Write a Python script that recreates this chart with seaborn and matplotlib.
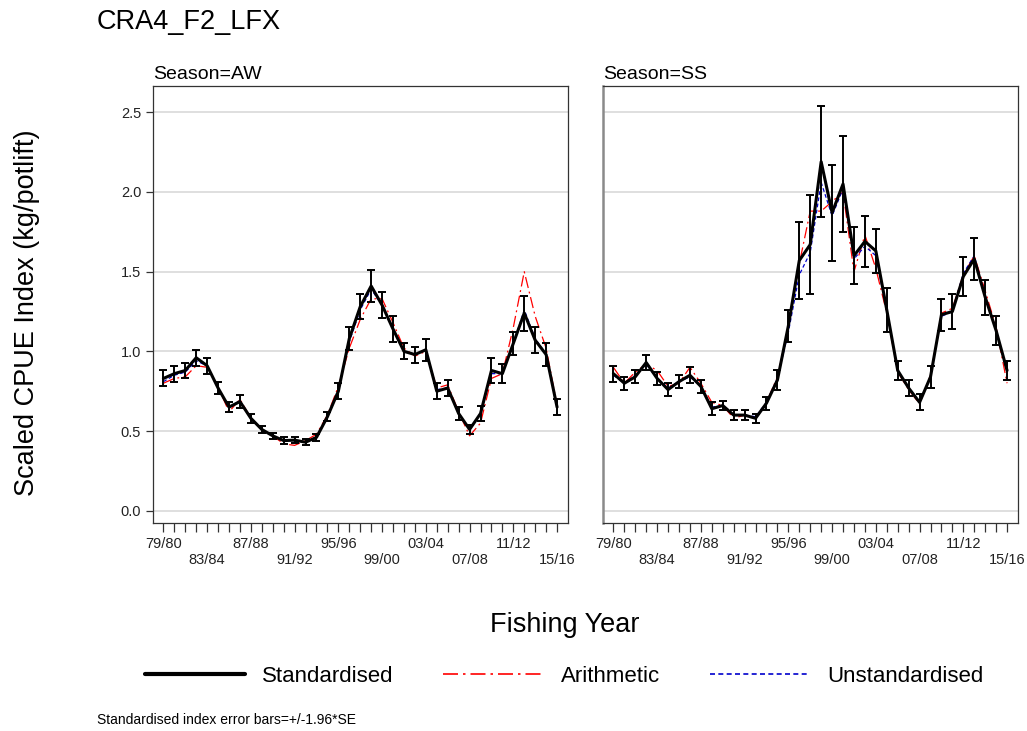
import matplotlib
matplotlib.use("Agg")
import matplotlib.pyplot as plt
import numpy as np
import pandas as pd
import seaborn as sns

# Fishing years 1979/80 .. 2015/16 (position index = year offset)
years = list(range(1979, 2016))
labelled_years = ["79/80", "83/84", "87/88", "91/92", "95/96",
                  "99/00", "03/04", "07/08", "11/12", "15/16"]

# Autumn-winter season
aw_std = [0.83, 0.86, 0.88, 0.96, 0.91, 0.77, 0.65, 0.685, 0.58, 0.51,
          0.47, 0.44, 0.443, 0.43, 0.46, 0.59, 0.75, 1.08, 1.28, 1.41,
          1.29, 1.14, 1.00, 0.98, 1.01, 0.75, 0.77, 0.61, 0.51, 0.61,
          0.88, 0.86, 1.05, 1.24, 1.07, 0.98, 0.65]
aw_ci = [0.05, 0.05, 0.05, 0.05, 0.05, 0.04, 0.03, 0.04, 0.03, 0.02,
         0.02, 0.02, 0.02, 0.02, 0.02, 0.03, 0.05, 0.07, 0.08, 0.10,
         0.08, 0.08, 0.05, 0.05, 0.07, 0.05, 0.05, 0.04, 0.03, 0.05,
         0.08, 0.06, 0.07, 0.11, 0.08, 0.07, 0.05]
aw_arith = [0.80, 0.83, 0.84, 0.91, 0.90, 0.78, 0.62, 0.70, 0.58, 0.51,
            0.47, 0.42, 0.41, 0.44, 0.48, 0.60, 0.78, 1.02, 1.20, 1.33,
            1.33, 1.18, 1.02, 0.97, 1.00, 0.77, 0.79, 0.62, 0.47, 0.55,
            0.83, 0.86, 1.15, 1.50, 1.22, 1.02, 0.66]
aw_unstd = [0.81, 0.85, 0.87, 0.94, 0.91, 0.77, 0.65, 0.69, 0.58, 0.51,
            0.47, 0.44, 0.44, 0.43, 0.46, 0.59, 0.76, 1.06, 1.26, 1.39,
            1.29, 1.14, 1.00, 0.98, 1.01, 0.76, 0.77, 0.61, 0.51, 0.61,
            0.86, 0.86, 1.05, 1.26, 1.08, 0.98, 0.66]

# Spring-summer season
ss_std = [0.86, 0.80, 0.84, 0.93, 0.83, 0.76, 0.81, 0.85, 0.78, 0.64,
          0.66, 0.60, 0.60, 0.58, 0.675, 0.82, 1.16, 1.57, 1.67, 2.19,
          1.87, 2.05, 1.60, 1.69, 1.63, 1.26, 0.88, 0.77, 0.68, 0.84,
          1.23, 1.25, 1.47, 1.58, 1.34, 1.13, 0.88]
ss_ci = [0.05, 0.04, 0.04, 0.05, 0.04, 0.04, 0.04, 0.05, 0.04, 0.04,
         0.03, 0.03, 0.03, 0.03, 0.04, 0.06, 0.10, 0.24, 0.31, 0.35,
         0.30, 0.30, 0.18, 0.16, 0.14, 0.14, 0.06, 0.05, 0.05, 0.07,
         0.10, 0.11, 0.12, 0.13, 0.11, 0.09, 0.06]
ss_arith = [0.90, 0.80, 0.87, 0.92, 0.88, 0.78, 0.80, 0.90, 0.80, 0.68,
            0.66, 0.58, 0.60, 0.58, 0.68, 0.84, 1.15, 1.55, 1.88, 1.88,
            1.94, 2.00, 1.50, 1.73, 1.52, 1.24, 0.87, 0.76, 0.67, 0.85,
            1.24, 1.27, 1.48, 1.60, 1.38, 1.15, 0.80]
ss_unstd = [0.85, 0.80, 0.85, 0.92, 0.83, 0.77, 0.81, 0.84, 0.78, 0.65,
            0.66, 0.60, 0.60, 0.59, 0.68, 0.83, 1.12, 1.48, 1.62, 2.06,
            1.85, 2.02, 1.58, 1.66, 1.60, 1.25, 0.88, 0.77, 0.68, 0.84,
            1.22, 1.25, 1.49, 1.60, 1.35, 1.13, 0.88]

sns.set_theme(style="white")
plt.rcParams["font.family"] = ["Liberation Sans", "DejaVu Sans"]
plt.rcParams["text.color"] = "black"
plt.rcParams["xtick.color"] = "#222222"
plt.rcParams["ytick.color"] = "#222222"

series_styles = {
    "Standardised": dict(color="black", lw=2.2, ls="-"),
    "Arithmetic": dict(color="red", lw=0.9, ls=(0, (9, 3, 1.5, 3))),
    "Unstandardised": dict(color="#0000cc", lw=0.9, ls=(0, (3, 2))),
}

seasons = [
    ("AW", aw_std, aw_ci, aw_arith, aw_unstd),
    ("SS", ss_std, ss_ci, ss_arith, ss_unstd),
]

W, H = 1027, 731
fig = plt.figure(figsize=(W / 100, H / 100), dpi=100)
panel_left = [153, 603]
panel_w = 415
top_px, bot_px = 86, 523
axes = [fig.add_axes([l / W, 1 - bot_px / H, panel_w / W, (bot_px - top_px) / H])
        for l in panel_left]

x = np.arange(len(years))
tick_labels = []
k = 0
for i in range(len(years)):
    if i % 4 == 0:
        lab = labelled_years[k]
        tick_labels.append(lab if k % 2 == 0 else "\n" + lab)
        k += 1
    else:
        tick_labels.append("")

for ax, (season, std, ci, arith, unstd) in zip(axes, seasons):
    df = pd.DataFrame({
        "pos": np.concatenate([x, x, x]),
        "value": np.concatenate([arith, unstd, std]),
        "series": ["Arithmetic"] * len(x) + ["Unstandardised"] * len(x)
                  + ["Standardised"] * len(x),
    })
    for name in ["Arithmetic", "Unstandardised"]:
        st = series_styles[name]
        sns.lineplot(data=df[df.series == name], x="pos", y="value", ax=ax,
                     color=st["color"], linewidth=st["lw"], linestyle=st["ls"],
                     zorder=3, legend=False)
    ax.errorbar(x, std, yerr=ci, fmt="none", ecolor="black", elinewidth=1.4,
                capsize=3.0, capthick=1.4, zorder=4)
    st = series_styles["Standardised"]
    sns.lineplot(data=df[df.series == "Standardised"], x="pos", y="value", ax=ax,
                 color=st["color"], linewidth=st["lw"], linestyle=st["ls"],
                 zorder=5, legend=False)

    ax.set_xlim(-0.95, 37.0)
    ax.set_ylim(-0.077, 2.665)
    ax.set_yticks([0.0, 0.5, 1.0, 1.5, 2.0, 2.5])
    ax.yaxis.grid(True, color="#d9d9d9", lw=1.2)
    ax.set_axisbelow(True)
    ax.set_xticks(x)
    ax.set_xticklabels(tick_labels, fontsize=10.5, linespacing=1.15)
    ax.tick_params(axis="x", length=6.5, width=0.9, color="#333333", direction="out",
                   bottom=True, pad=3.5)
    ax.set_xlabel("")
    ax.set_ylabel("")
    ax.text(0.0, 1.008, f"Season={season}", transform=ax.transAxes,
            fontsize=14, ha="left", va="bottom", color="black")

axes[0].set_yticklabels(["0.0", "0.5", "1.0", "1.5", "2.0", "2.5"], fontsize=10.5)
axes[0].tick_params(axis="y", length=5, width=0.9, color="#333333", left=True,
                    direction="out")
for sp in axes[0].spines.values():
    sp.set_color("#333333")
    sp.set_linewidth(0.9)

axes[1].set_yticklabels([])
axes[1].tick_params(axis="y", left=False)
for sp in axes[1].spines.values():
    sp.set_color("#333333")
    sp.set_linewidth(0.9)
axes[1].spines["left"].set_color("#8a8a8a")
axes[1].spines["left"].set_linewidth(1.8)

fig.text(97 / W, 1 - 22 / H, "CRA4_F2_LFX", fontsize=19.5, ha="left", va="center")
fig.text(27 / W, 1 - 313 / H, "Scaled CPUE Index (kg/potlift)", fontsize=19.5,
         rotation=90, ha="center", va="center")
fig.text(565 / W, 1 - 625 / H, "Fishing Year", fontsize=19.5, ha="center", va="center")
fig.text(97 / W, 1 - 720 / H, "Standardised index error bars=+/-1.96*SE",
         fontsize=10, ha="left", va="center")

handles = [plt.Line2D([], [], color=series_styles[n]["color"],
                      lw=(3 if n == "Standardised" else 1.2),
                      ls=series_styles[n]["ls"])
           for n in ["Standardised", "Arithmetic", "Unstandardised"]]
fig.legend(handles, ["Standardised", "Arithmetic", "Unstandardised"],
           loc="center", bbox_to_anchor=(564 / W, 1 - 676 / H), ncol=3,
           frameon=False, fontsize=16, handlelength=4.5, handletextpad=0.77,
           columnspacing=2.25)

fig.savefig("out.png", dpi=100)
